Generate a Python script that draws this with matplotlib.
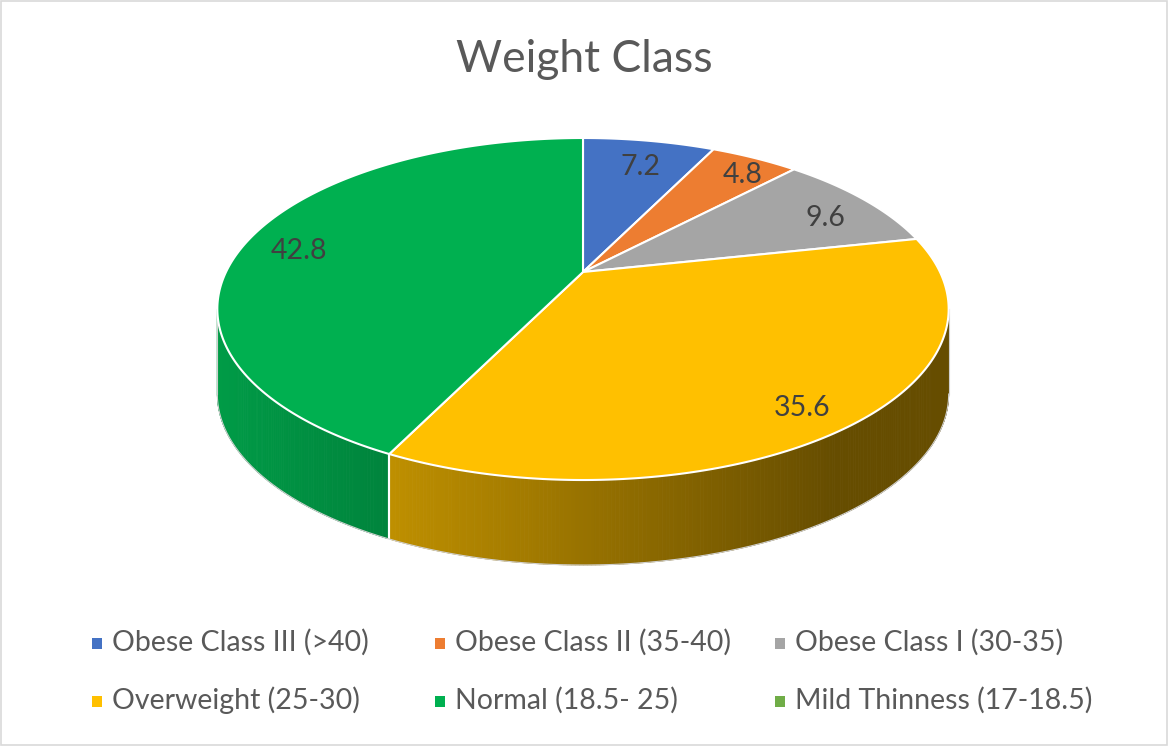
import numpy as np
import matplotlib
matplotlib.use("Agg")
from matplotlib import pyplot as plt
from matplotlib.patches import Polygon, Rectangle

# data
categories = ["Obese Class III (>40)", "Obese Class II (35-40)", "Obese Class I (30-35)",
              "Overweight (25-30)", "Normal (18.5- 25)", "Mild Thinness (17-18.5)"]
values = [7.2, 4.8, 9.6, 35.6, 42.8, 0.0]
colors = ["#4472C4", "#ED7D31", "#A5A5A5", "#FFC000", "#00B050", "#70AD47"]
title = "Weight Class"

plt.rcParams['font.family'] = ['Lato', 'DejaVu Sans']
fig = plt.figure(figsize=(11.7, 7.5), dpi=100)
ax = fig.add_axes([0, 0, 1, 1])
ax.set_xlim(0, 1170)
ax.set_ylim(750, 0)
ax.axis('off')

# perspective ellipse (pixel space)
CX, CY = 583, 272
AX, AY = 357, -163
C = 0.2164
H = 85  # thickness


def proj(theta, r=1.0, dz=0.0):
    t = np.radians(theta)
    s = r * np.sin(t)
    c = r * np.cos(t)
    w = 1 + C * s
    return CX + AX * c / w, CY + AY * s / w + dz


def shade(col, x):
    f = np.clip(0.88 - 0.00078 * (x - 220), 0.40, 1.0)
    rgb = np.array(matplotlib.colors.to_rgb(col)) * f
    return rgb


# wedge angles: start at 12 o'clock, clockwise
total = sum(values)
spans = [v / total * 360 for v in values]
starts = 90 - np.concatenate([[0], np.cumsum(spans)[:-1]])
# each wedge covers [lo, hi] in ccw terms
ranges = [(s - sp, s) for s, sp in zip(starts, spans)]

sil_lo = 180 + np.degrees(np.arcsin(C))
sil_hi = 360 - np.degrees(np.arcsin(C))

# sides
for (lo, hi), v, col in zip(ranges, values, colors):
    if v == 0:
        continue
    for off in (0, 360, -360):
        a0 = max(lo + off, sil_lo)
        a1 = min(hi + off, sil_hi)
        if a1 <= a0:
            continue
        edges = np.linspace(a0, a1, int((a1 - a0) * 2) + 2)
        for e0, e1 in zip(edges[:-1], edges[1:]):
            x0, y0 = proj(e0)
            x1, y1 = proj(e1)
            fc = shade(col, (x0 + x1) / 2)
            ax.add_patch(Polygon([(x0, y0), (x1, y1), (x1, y1 + H), (x0, y0 + H)],
                                 closed=True, facecolor=fc, edgecolor=fc, lw=0.6))
        # white seams at wedge boundaries on the side
        for a in (a0, a1):
            if sil_lo + 0.5 < a < sil_hi - 0.5:
                xs, ys = proj(a)
                ax.plot([xs, xs], [ys, ys + H], color="white", lw=1.5, zorder=3)

# silhouette outline of the side
th = np.linspace(sil_lo, sil_hi, 200)
bx, by = proj(th, dz=H)
ax.plot(bx, by, color="#d0d0d0", lw=0.8, zorder=3)
lx, ly = proj(sil_lo)
rx, ry = proj(sil_hi)
ax.plot([lx, lx], [ly, ly + H], color="#d0d0d0", lw=0.8, zorder=3)
ax.plot([rx, rx], [ry, ry + H], color="#d0d0d0", lw=0.8, zorder=3)

# top face
for (lo, hi), v, col in zip(ranges, values, colors):
    if v == 0:
        continue
    th = np.linspace(lo, hi, max(int(hi - lo) * 2, 4))
    px, py = proj(th)
    pts = [(CX, CY)] + list(zip(px, py))
    ax.add_patch(Polygon(pts, closed=True, facecolor=col, edgecolor="white",
                         lw=1.5, zorder=4, joinstyle="round"))

# data labels
for (lo, hi), v in zip(ranges, values):
    if v == 0:
        continue
    r = 0.85 if v > 6 else 0.92
    tx, ty = proj((lo + hi) / 2, r=r, dz=9)
    ax.text(tx, ty, f"{v:.1f}", ha="center", va="center", fontsize=20.5,
            color="#404040", zorder=6)

# title
ax.text(584, 60, title, ha="center", va="center", fontsize=32, color="#595959")

# legend
col_x = [92, 435, 775]
row_y = [642, 700]
for i, (lab, col) in enumerate(zip(categories, colors)):
    x = col_x[i % 3]
    y = row_y[i // 3]
    ax.add_patch(Rectangle((x, y - 4), 10, 11, facecolor=col, edgecolor="none"))
    ax.text(x + 20, y, lab, ha="left", va="center", fontsize=20.5, color="#595959")

# chart border
ax.add_patch(Rectangle((1, 1), 1166, 744, facecolor="none", edgecolor="#d9d9d9", lw=1.2))

fig.savefig("out.png", dpi=100)
